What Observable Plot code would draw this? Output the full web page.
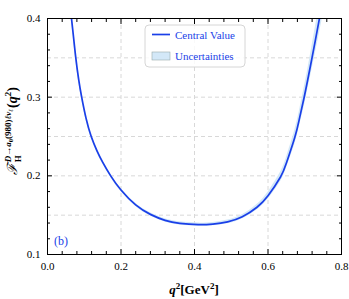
<!DOCTYPE html>
<html><head><meta charset="utf-8">
<script src="https://cdn.jsdelivr.net/npm/d3@7"></script>
<script src="https://cdn.jsdelivr.net/npm/@observablehq/plot@0.6"></script>
<style>body{margin:0;background:#fff} #c{width:349px;height:299px}</style>
</head><body><div id="c"></div><script>
const q2      = [0.060, 0.0653, 0.070, 0.077, 0.085, 0.093, 0.105, 0.119, 0.135, 0.150, 0.172, 0.200, 0.240, 0.280, 0.320, 0.360, 0.410, 0.450, 0.490, 0.530, 0.570, 0.600, 0.634, 0.651, 0.673, 0.686, 0.698, 0.710, 0.720, 0.731, 0.741, 0.748];
const central = [0.424, 0.400, 0.380, 0.350, 0.322, 0.300, 0.273, 0.250, 0.2315, 0.2175, 0.200, 0.182, 0.163, 0.151, 0.1434, 0.1395, 0.1379, 0.1387, 0.1415, 0.1479, 0.1601, 0.1747, 0.1985, 0.2175, 0.249, 0.2737, 0.299, 0.3266, 0.3506, 0.3776, 0.4026, 0.420];
const halfErr = [0.004, 0.004, 0.0036, 0.0033, 0.003, 0.003, 0.0028, 0.0025, 0.0023, 0.0022, 0.002, 0.002, 0.002, 0.002, 0.002, 0.002, 0.002, 0.0021, 0.0023, 0.0027, 0.0035, 0.0045, 0.006, 0.007, 0.009, 0.010, 0.012, 0.013, 0.015, 0.017, 0.019, 0.020];

const xMajor = [0, 0.2, 0.4, 0.6, 0.8];
const xMinor = [0.04, 0.08, 0.12, 0.16, 0.24, 0.28, 0.32, 0.36, 0.44, 0.48, 0.52, 0.56, 0.64, 0.68, 0.72, 0.76];
const yMajor = [0.1, 0.2, 0.3, 0.4];
const yMinor = [0.12, 0.14, 0.16, 0.18, 0.22, 0.24, 0.26, 0.28, 0.32, 0.34, 0.36, 0.38];
const xGrid = [0.2, 0.4, 0.6];
const yGrid = [0.15, 0.2, 0.25, 0.3, 0.35];

const data = q2.map((q, i) => ({q, v: central[i], lo: central[i] - halfErr[i], hi: central[i] + halfErr[i]}));
const blue = "#1a3fe8";
const bandFill = "#d3e8f8";
const serif = "'Liberation Serif', 'Times New Roman', serif";
const fmt = d3.format(".1f");
const none = () => "";

const plot = Plot.plot({
  width: 349, height: 299,
  marginLeft: 47, marginRight: 8, marginTop: 18, marginBottom: 45,
  x: {domain: [0, 0.8]},
  y: {domain: [0.1, 0.4]},
  style: {fontFamily: serif, fontSize: "11px", color: "#000", background: "#fff"},
  marks: [
    Plot.ruleX(xGrid, {stroke: "#d8d8d8", strokeDasharray: "4,3"}),
    Plot.ruleY(yGrid, {stroke: "#d8d8d8", strokeDasharray: "4,3"}),
    Plot.areaY(data, {x: "q", y1: "lo", y2: "hi", fill: bandFill, curve: "natural", clip: true}),
    Plot.line(data, {x: "q", y: "v", stroke: blue, strokeWidth: 1.7, curve: "natural", clip: true}),
    Plot.frame({stroke: "#000", strokeWidth: 1}),
    Plot.axisX(xMajor, {anchor: "bottom", tickSize: -5, tickPadding: 13, tickFormat: fmt, label: null, fontSize: 11}),
    Plot.axisX(xMinor, {anchor: "bottom", tickSize: -3, tickFormat: none, label: null}),
    Plot.axisX(xMajor, {anchor: "top", tickSize: -5, tickFormat: none, label: null}),
    Plot.axisX(xMinor, {anchor: "top", tickSize: -3, tickFormat: none, label: null}),
    Plot.axisY(yMajor, {anchor: "left", tickSize: -5, tickPadding: 12, tickFormat: fmt, label: null, fontSize: 11}),
    Plot.axisY(yMinor, {anchor: "left", tickSize: -3, tickFormat: none, label: null}),
    Plot.axisY(yMajor, {anchor: "right", tickSize: -5, tickFormat: none, label: null}),
    Plot.axisY(yMinor, {anchor: "right", tickSize: -3, tickFormat: none, label: null})
  ]
});
document.getElementById("c").appendChild(plot);

const svg = d3.select(plot);
const txt = (sel) => sel.append("text").attr("font-family", serif).attr("text-anchor", "start");

// legend
const lg = svg.append("g");
lg.append("rect").attr("x", 145).attr("y", 25).attr("width", 100).attr("height", 42).attr("rx", 4)
  .attr("fill", "#fff").attr("fill-opacity", 0.85).attr("stroke", "#d6d6d6");
lg.append("line").attr("x1", 152).attr("x2", 170).attr("y1", 34.5).attr("y2", 34.5).attr("stroke", blue).attr("stroke-width", 1.7);
txt(lg).attr("x", 175).attr("y", 38.5).attr("font-size", 11).attr("fill", blue).text("Central Value");
lg.append("rect").attr("x", 152).attr("y", 52).attr("width", 18).attr("height", 8).attr("fill", bandFill).attr("stroke", "#9aa").attr("stroke-width", 0.6);
txt(lg).attr("x", 175).attr("y", 60).attr("font-size", 11).attr("fill", blue).text("Uncertainties");

// (b)
txt(svg).attr("x", 54).attr("y", 245).attr("font-size", 12).attr("fill", blue).text("(b)");

// x label
const xl = svg.append("text").attr("x", 194).attr("y", 294).attr("text-anchor", "middle")
  .attr("font-family", serif).attr("font-size", 13).attr("font-weight", "bold");
xl.append("tspan").attr("font-style", "italic").text("q");
xl.append("tspan").attr("font-size", 9).attr("dy", -5).text("2");
xl.append("tspan").attr("dy", 5).text("[GeV");
xl.append("tspan").attr("font-size", 9).attr("dy", -5).text("2");
xl.append("tspan").attr("dy", 5).text("]");

// y label
const yg = svg.append("g");
const inner = yg.append("g");
const F = inner.append("text").attr("text-anchor", "start").attr("x", 0).attr("y", 0)
  .attr("font-family", "'DejaVu Serif', serif").attr("font-size", 14).attr("font-style", "italic").text("\u2131");
const fw = F.node().getComputedTextLength();
const H = txt(inner).attr("x", fw + 0.5).attr("y", 4).attr("font-size", 9).attr("font-weight", "bold").text("H");
const sup = txt(inner).attr("x", fw + 0.5).attr("y", -6.5).attr("font-size", 9).attr("font-weight", "bold");
sup.append("tspan").attr("font-style", "italic").text("D");
sup.append("tspan").text("\u2192");
sup.append("tspan").attr("font-style", "italic").text("a");
sup.append("tspan").attr("font-size", 6.5).attr("dy", 2).text("0");
sup.append("tspan").attr("dy", -2).text("(980)");
sup.append("tspan").attr("font-style", "italic").text("\u2113\u03bd");
sup.append("tspan").attr("font-size", 6.5).attr("font-style", "italic").attr("dy", 2).text("\u2113");
const sw = Math.max(sup.node().getComputedTextLength(), H.node().getComputedTextLength());
const rest = txt(inner).attr("x", fw + 0.5 + sw + 1).attr("y", 0).attr("font-size", 14).attr("font-weight", "bold");
rest.append("tspan").text("(");
rest.append("tspan").attr("font-style", "italic").text("q");
rest.append("tspan").attr("font-size", 9).attr("dy", -6).text("2");
rest.append("tspan").attr("dy", 6).text(")");
const total = fw + 0.5 + sw + 1 + rest.node().getComputedTextLength();
inner.attr("transform", `translate(${-total / 2},0)`);
yg.attr("transform", "translate(17,131) rotate(-90)");
</script></body></html>
